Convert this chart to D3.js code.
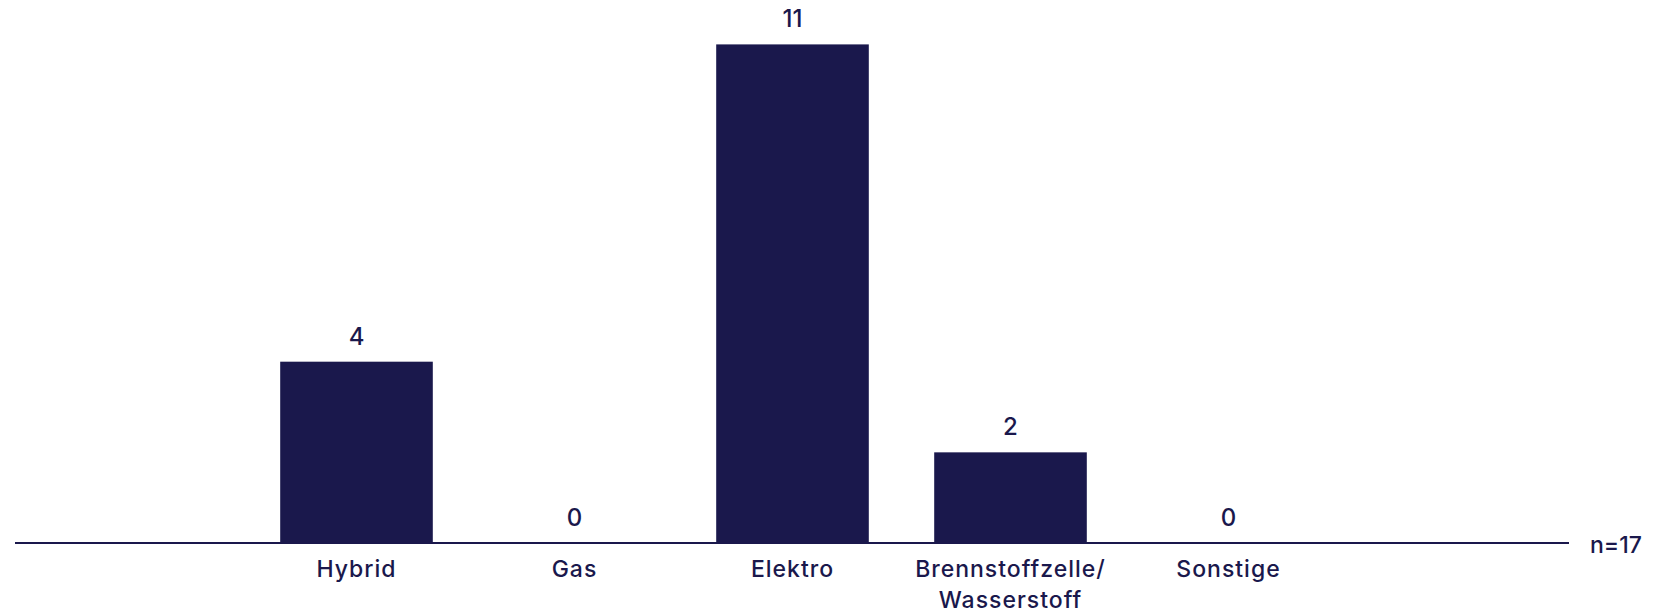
<!DOCTYPE html>
<html>
<head>
<meta charset="utf-8">
<script src="https://cdn.jsdelivr.net/npm/d3@7"></script>
<style>
  html, body { margin: 0; padding: 0; background: #fff; }
  svg { display: block; }
  text { font-family: Inter, "Open Sans", Roboto, sans-serif; font-weight: 500; fill: #1a184c; }
</style>
</head>
<body>
<svg id="chart" width="1657" height="614"></svg>
<script>
const categories = ["Hybrid", "Gas", "Elektro", "Brennstoffzelle/\nWasserstoff", "Sonstige"];
const values = [4, 0, 11, 2, 0];
const nLabel = "n=17";

const color = "#1a184c";
const svg = d3.select("#chart");
const baseY = 543;

const x = d3.scaleBand()
  .domain(categories)
  .range([247.5, 1337.5])
  .paddingInner(0.3)
  .paddingOuter(0.15);

const y = d3.scaleLinear()
  .domain([0, 11])
  .range([baseY, 44.4]);

// bars
svg.selectAll("rect.bar")
  .data(values)
  .join("rect")
  .attr("class", "bar")
  .attr("x", (d, i) => x(categories[i]))
  .attr("width", x.bandwidth())
  .attr("y", d => y(d))
  .attr("height", d => baseY - y(d))
  .attr("fill", color);

// baseline
svg.append("line")
  .attr("x1", 15).attr("x2", 1569)
  .attr("y1", baseY).attr("y2", baseY)
  .attr("stroke", color)
  .attr("stroke-width", 2.2);

// value labels
svg.selectAll("text.val")
  .data(values)
  .join("text")
  .attr("class", "val")
  .attr("x", (d, i) => x(categories[i]) + x.bandwidth() / 2)
  .attr("y", d => y(d) - 17)
  .attr("text-anchor", "middle")
  .attr("font-size", 24)
  .text(d => d);

// category labels
const cat = svg.selectAll("text.cat")
  .data(categories)
  .join("text")
  .attr("class", "cat")
  .attr("x", d => x(d) + x.bandwidth() / 2)
  .attr("y", 577)
  .attr("text-anchor", "middle")
  .attr("font-size", 23)
  .attr("letter-spacing", 1);
cat.each(function(d) {
  const lines = d.split("\n");
  const t = d3.select(this);
  lines.forEach((l, j) => {
    t.append("tspan")
      .attr("x", x(d) + x.bandwidth() / 2)
      .attr("dy", j === 0 ? 0 : 31)
      .text(l);
  });
});

// n label
svg.append("text")
  .attr("x", 1590)
  .attr("y", 553)
  .attr("font-size", 23)
  .text(nLabel);
</script>
</body>
</html>
